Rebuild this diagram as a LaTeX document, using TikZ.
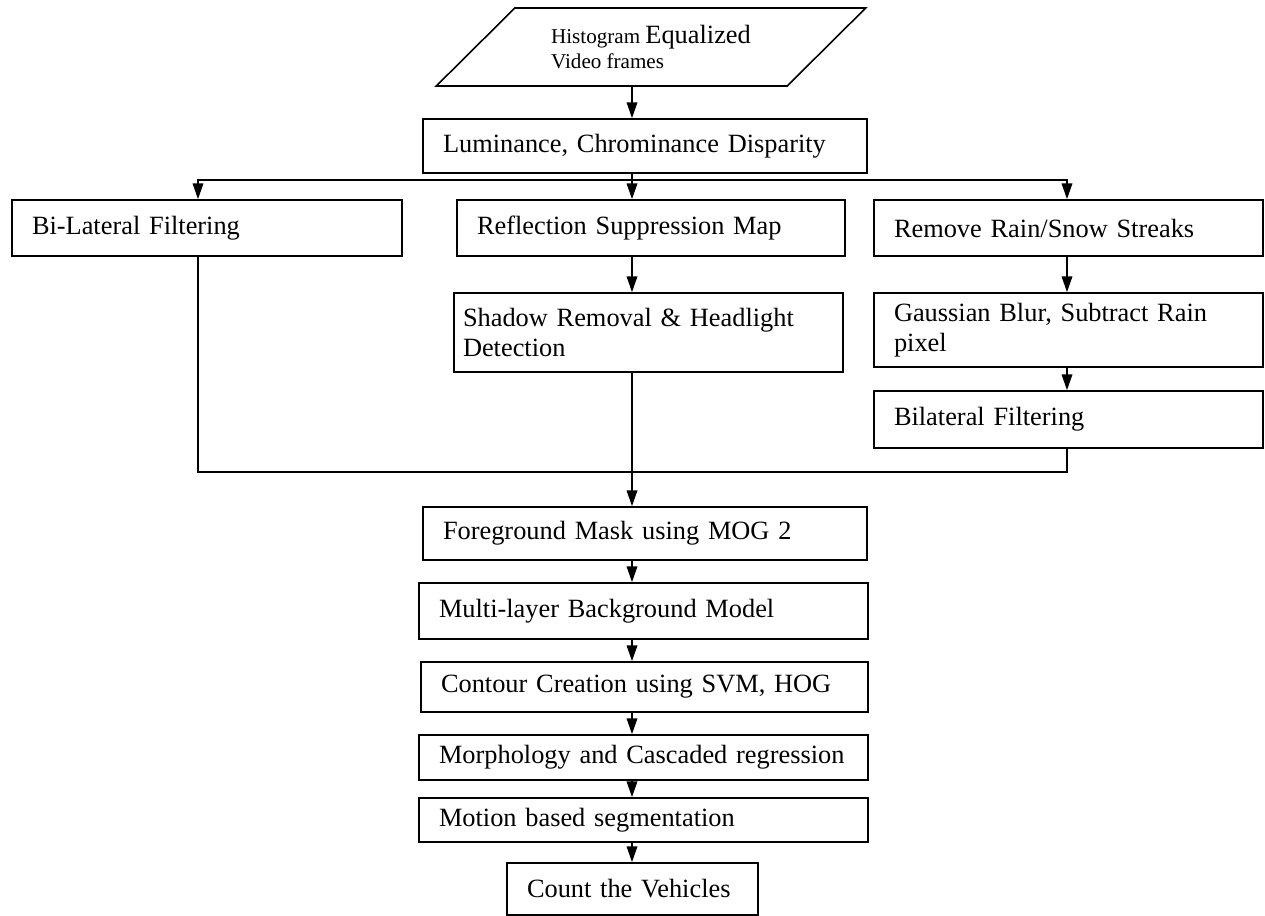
\documentclass[tikz,border=0pt]{standalone}
\usepackage{fontspec}
\setmainfont{Liberation Serif}
\usetikzlibrary{
    arrows.meta,
    shapes.geometric,
    positioning,
    calc
}
\tikzstyle{stage} = [
    rectangle,
    draw=black,
    line width=0.9pt,
    inner xsep=0.4cm,
    inner ysep=0pt,
    align=left,
    font=\fontsize{15}{17}\selectfont
]
\tikzstyle{inputbox} = [
    trapezium,
    trapezium left angle=42,
    trapezium right angle=138,
    trapezium stretches=true,
    draw=black,
    line width=0.9pt,
    minimum width=8.6cm,
    minimum height=1.56cm,
    align=left,
    font=\fontsize{12}{14}\selectfont
]
\tikzstyle{arrow} = [
    -{Triangle[length=9pt,width=6pt]},
    line width=0.9pt,
    draw=black
]
\tikzstyle{line} = [
    line width=0.9pt,
    draw=black
]

\begin{document}
\begin{tikzpicture}
        \useasboundingbox (0,0) rectangle (25.3,-18.32);

        % Columns and junctions
        \coordinate (lcol) at (3.96,0);
        \coordinate (ccol) at (12.64,0);
        \coordinate (rcol) at (21.34,0);
        \coordinate (split) at (12.64,-3.6);
        \coordinate (merge) at (12.64,-9.44);

        % Input frames
        \node[inputbox] (input) at (13.02,-0.94) {
            Histogram {\fontsize{15}{17}\selectfont Equalized}\\Video frames
        };
        \node[stage, text width=8.08cm, minimum height=1.08cm] (lum) at (12.9,-2.92) {
            Luminance, Chrominance Disparity
        };

        % Three branches
        \node[stage, text width=7cm, minimum height=1.12cm] (bilat) at (4.14,-4.56) {
            Bi-Lateral Filtering
        };
        \node[stage, text width=6.96cm, minimum height=1.12cm] (refl) at (13.02,-4.56) {
            Reflection Suppression Map
        };
        \node[stage, text width=6.98cm, minimum height=1.12cm] (rain) at (21.37,-4.56) {
            Remove Rain/Snow Streaks
        };
        \node[stage, inner xsep=0.18cm, text width=7.42cm, minimum height=1.58cm] (shadow) at (12.97,-6.65) {
            Shadow Removal \& Headlight\\Detection
        };
        \node[stage, text width=6.98cm, minimum height=1.48cm] (gauss) at (21.37,-6.6) {
            Gaussian Blur, Subtract Rain\\pixel
        };
        \node[stage, text width=6.98cm, minimum height=1.14cm] (bilf) at (21.37,-8.39) {
            Bilateral Filtering
        };

        % Main chain
        \node[stage, text width=8.08cm, minimum height=1.06cm] (fg) at (12.9,-10.67) {
            Foreground Mask using MOG 2
        };
        \node[stage, text width=8.18cm, minimum height=1.12cm] (multi) at (12.87,-12.22) {
            Multi-layer Background Model
        };
        \node[stage, text width=8.14cm, minimum height=1cm] (contour) at (12.89,-13.74) {
            Contour Creation using SVM, HOG
        };
        \node[stage, text width=8.18cm, minimum height=0.9cm] (morph) at (12.87,-15.15) {
            Morphology and Cascaded regression
        };
        \node[stage, text width=8.18cm, minimum height=0.88cm] (motion) at (12.87,-16.4) {
            Motion based segmentation
        };
        \node[stage, text width=4.22cm, minimum height=1.04cm] (count) at (12.65,-17.78) {
            Count the Vehicles
        };

        % Arrows
        \draw[arrow] (input.south -| ccol) -- (lum.north -| ccol);
        \draw[line] (lum.south -| ccol) -- (split);
        \draw[arrow] (split) -| (bilat.north -| lcol);
        \draw[arrow] (split) -| (rain.north -| rcol);
        \draw[arrow] (split) -- (refl.north -| ccol);
        \draw[arrow] (refl.south -| ccol) -- (shadow.north -| ccol);
        \draw[arrow] (rain.south -| rcol) -- (gauss.north -| rcol);
        \draw[arrow] (gauss.south -| rcol) -- (bilf.north -| rcol);
        \draw[line] (bilat.south -| lcol) |- (merge) -| (bilf.south -| rcol);
        \draw[arrow] (shadow.south -| ccol) -- (fg.north -| ccol);
        \foreach \a/\b in {fg/multi, multi/contour, contour/morph, morph/motion, motion/count}
            \draw[arrow] (\a.south -| ccol) -- (\b.north -| ccol);
    \end{tikzpicture}
\end{document}
